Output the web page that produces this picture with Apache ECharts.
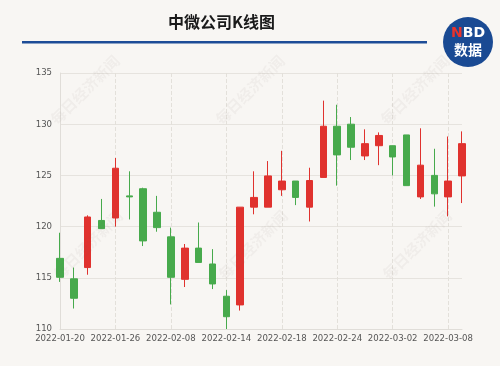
<!DOCTYPE html>
<html>
<head>
<meta charset="utf-8">
<script src="https://cdn.jsdelivr.net/npm/echarts@6/dist/echarts.min.js"></script>
<style>
html,body{margin:0;padding:0;background:#f8f6f3;}
#c{width:500px;height:366px;}
</style>
</head>
<body>
<div id="c"></div>
<script>
const dates = ['2022-01-20','2022-01-21','2022-01-24','2022-01-25','2022-01-26','2022-01-27','2022-01-28','2022-02-07','2022-02-08','2022-02-09','2022-02-10','2022-02-11','2022-02-14','2022-02-15','2022-02-16','2022-02-17','2022-02-18','2022-02-21','2022-02-22','2022-02-23','2022-02-24','2022-02-25','2022-02-28','2022-03-01','2022-03-02','2022-03-03','2022-03-04','2022-03-07','2022-03-08','2022-03-09'];
const opens  = [116.9,114.9,116.0,120.6,120.84,123.0,123.7,121.4,119.0,114.85,117.9,116.35,113.2,112.35,121.9,121.9,123.6,124.45,121.9,124.8,129.8,130.0,126.9,127.9,127.9,128.95,122.9,125.0,122.9,124.95];
const closes = [115.05,113.0,120.94,119.8,125.7,122.9,118.6,119.9,115.05,117.9,116.5,114.4,111.2,121.9,122.85,124.95,124.45,122.85,124.5,129.8,127.0,127.75,128.1,128.9,126.8,124.0,126.0,123.2,124.45,128.1];
const lows   = [114.6,112.0,115.3,119.8,120.0,120.7,118.1,119.5,112.4,114.1,116.5,113.9,110.0,111.8,121.2,121.9,123.0,122.1,120.5,124.8,124.0,126.5,126.5,126.0,125.0,124.0,122.7,121.95,121.0,122.3];
const highs  = [119.4,116.0,121.1,122.7,126.7,125.4,123.8,123.0,119.9,118.3,120.4,117.8,113.8,121.9,125.4,126.4,127.4,124.45,125.75,132.3,131.9,130.7,129.5,129.2,127.9,128.95,129.6,127.6,128.8,129.3];
const yTicks = {min:110, max:135, interval:5};
const titleText = '中微公司K线图';
const watermarkText = '每日经济新闻';

const kdata = dates.map((d,i)=>[opens[i],closes[i],lows[i],highs[i]]);

const wmPos = [[85,90],[250,90],[415,90],[88,245],[253,245],[417,245]];
const watermarks = wmPos.map(p=>({
  type:'text', x:p[0], y:p[1], rotation:Math.PI/4, z:100, silent:true,
  style:{text:watermarkText, fill:'rgba(120,110,100,0.06)', font:'bold 15px "Noto Sans CJK SC"', textAlign:'center', textVerticalAlign:'middle'}
}));

const showLabel = (i) => i % 4 === 0;
const labelFont = '"DejaVu Sans Condensed", sans-serif';

const chart = echarts.init(document.getElementById('c'));
chart.setOption({
  backgroundColor:'#f8f6f3',
  animation:false,
  graphic:[
    {type:'text', left:168, top:14, style:{text:titleText, fill:'#1a1a1a', font:'bold 16px "Noto Sans CJK SC"'}},
    {type:'rect', shape:{x:22,y:41,width:405,height:2.5}, style:{fill:'#1d4c97'}},
    {type:'circle', shape:{cx:468,cy:42,r:25}, style:{fill:'#1a4a93'}},
    {type:'text', x:468, y:33, style:{text:'{n|N}{b|BD}', textAlign:'center', textVerticalAlign:'middle',
      rich:{n:{fill:'#e8332c', font:'bold 14px "DejaVu Sans"'}, b:{fill:'#ffffff', font:'bold 14px "DejaVu Sans"'}}}},
    {type:'text', x:468, y:50, style:{text:'数据', fill:'#ffffff', font:'bold 14px "Noto Sans CJK SC"', textAlign:'center', textVerticalAlign:'middle'}},
    ...watermarks
  ],
  grid:{left:60, right:38, top:73, bottom:37},
  xAxis:{
    type:'category', data:dates, boundaryGap:false,
    axisLine:{lineStyle:{color:'#e0ddd8'}},
    axisTick:{show:false},
    axisLabel:{interval:0, showMinLabel:true, showMaxLabel:true, hideOverlap:false,
      formatter:(v,i)=> showLabel(i) ? v : '',
      color:'#555', fontSize:9.5, margin:5, fontFamily:labelFont},
    splitLine:{show:true, interval:showLabel, lineStyle:{color:'#e3e0da', type:'dashed'}}
  },
  yAxis:{
    type:'value', min:yTicks.min, max:yTicks.max, interval:yTicks.interval,
    axisLine:{show:true, lineStyle:{color:'#e0ddd8'}},
    axisTick:{show:false},
    axisLabel:{color:'#555', fontSize:9.5, margin:8, fontFamily:labelFont},
    splitLine:{lineStyle:{color:'#e6e3de'}}
  },
  series:[{
    type:'candlestick', data:kdata, barWidth:7,
    itemStyle:{color:'#e0322e', color0:'#47aa4c', borderColor:'#e0322e', borderColor0:'#47aa4c', borderWidth:1}
  }]
});
</script>
</body>
</html>
